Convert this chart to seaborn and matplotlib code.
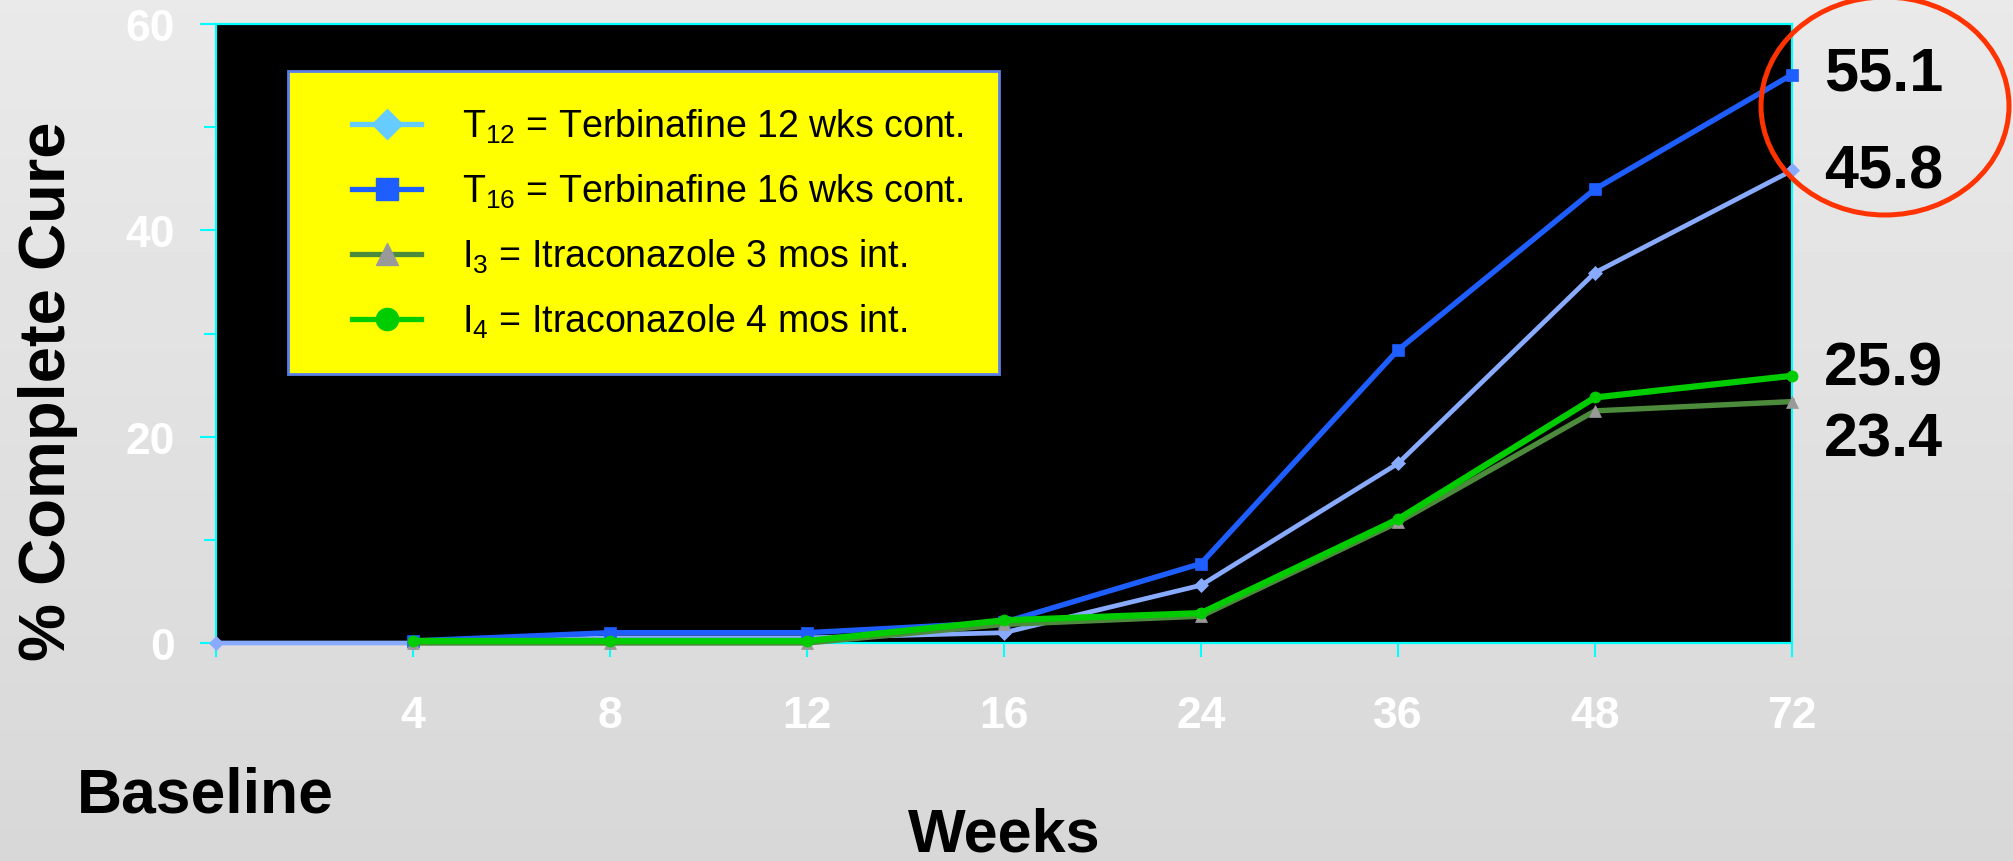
import numpy as np
import pandas as pd
import matplotlib
matplotlib.use("Agg")
import matplotlib.pyplot as plt
import seaborn as sns
from matplotlib.lines import Line2D
from matplotlib.patches import Ellipse, Rectangle
from matplotlib.ticker import MultipleLocator, FixedLocator

# ---- data -------------------------------------------------------------
weeks = ["Baseline", "4", "8", "12", "16", "24", "36", "48", "72"]
t12 = [0.0, 0.0, 0.5, 0.5, 1.0, 5.6, 17.4, 35.9, 45.8]
t16 = [np.nan, 0.2, 1.0, 1.0, 2.0, 7.7, 28.4, 44.0, 55.1]
i3 = [np.nan, 0.0, 0.0, 0.0, 1.8, 2.6, 11.7, 22.5, 23.4]
i4 = [np.nan, 0.2, 0.2, 0.2, 2.2, 2.9, 12.0, 23.8, 25.9]
series_labels = [
    "T$_{12}$ = Terbinafine 12 wks cont.",
    "T$_{16}$ = Terbinafine 16 wks cont.",
    "I$_{3}$ = Itraconazole 3 mos int.",
    "I$_{4}$ = Itraconazole 4 mos int.",
]
y_ticks = [0, 20, 40, 60]

# ---- styling -----------------------------------------------------------
plt.rcParams["font.family"] = ["Liberation Sans", "DejaVu Sans"]
plt.rcParams["mathtext.default"] = "regular"

W, H, DPI = 2013, 862, 100
fig = plt.figure(figsize=(W / DPI, H / DPI), dpi=DPI)

# soft grey gradient behind everything
bg = fig.add_axes([0, 0, 1, 1], zorder=-10)
grad = np.linspace(0.915, 0.845, 256).reshape(-1, 1)
bg.imshow(grad, aspect="auto", cmap="gray", vmin=0, vmax=1,
          extent=[0, 1, 0, 1])
bg.set_axis_off()

ax_l, ax_r, ax_t, ax_b = 216, 1792, 25, 644
ax = fig.add_axes([ax_l / W, 1 - ax_b / H, (ax_r - ax_l) / W, (ax_b - ax_t) / H])
ax.set_facecolor("black")

pos = np.arange(len(weeks))
df = pd.DataFrame({"pos": pos, "t12": t12, "t16": t16, "i3": i3, "i4": i4})

specs = [
    ("t12", dict(color="#88AAFF", lw=3.4, marker="D", ms=7, mfc="#88AAFF", mec="#88AAFF")),
    ("t16", dict(color="#1E5EFF", lw=3.9, marker="s", ms=8, mfc="#1E5EFF", mec="#1E5EFF")),
    ("i3", dict(color="#4B8B3B", lw=3.9, marker="^", ms=8, mfc="#999999", mec="#999999")),
    ("i4", dict(color="#00CC00", lw=4.5, marker="o", ms=8, mfc="#00CC00", mec="#00CC00")),
]
for col, kw in specs:
    sub = df[["pos", col]].dropna()
    sns.lineplot(data=sub, x="pos", y=col, ax=ax, color=kw["color"],
                 linewidth=kw["lw"], marker=kw["marker"], markersize=kw["ms"],
                 markerfacecolor=kw["mfc"], markeredgecolor=kw["mec"],
                 markeredgewidth=0.5, legend=False, clip_on=False, zorder=3)

ax.set_xlim(0, len(weeks) - 1)
ax.set_ylim(0, 60)

# axes frame and ticks in cyan
for sp in ax.spines.values():
    sp.set_color("#00FFFF")
    sp.set_linewidth(1.6)
    sp.set_zorder(2)

ax.xaxis.set_major_locator(FixedLocator(pos))
ax.set_xticklabels([""] + weeks[1:])
ax.yaxis.set_major_locator(FixedLocator(y_ticks))
ax.set_yticklabels([str(v) for v in y_ticks])
ax.yaxis.set_minor_locator(MultipleLocator(10))
ax.tick_params(axis="x", which="major", length=10, width=1.5, color="#00FFFF",
               pad=27.5, labelsize=32, labelcolor="white")
ax.tick_params(axis="y", which="major", length=11.5, width=1.5, color="#00FFFF",
               pad=18, labelsize=32, labelcolor="white")
ax.tick_params(axis="y", which="minor", length=9, width=1.5, color="#00FFFF")
for lab in ax.get_xticklabels() + ax.get_yticklabels():
    lab.set_fontweight("bold")

# axis titles
ax.set_xlabel("Weeks", fontsize=44, fontweight="bold", color="black")
ax.xaxis.label.set_va("baseline")
ax.xaxis.set_label_coords((1004 - ax_l) / (ax_r - ax_l), (ax_b - 852) / (ax_b - ax_t))
ax.set_ylabel("% Complete Cure", fontsize=47, fontweight="bold", color="black")
ax.yaxis.label.set_va("center")
ax.yaxis.set_label_coords((48 - ax_l) / (ax_r - ax_l), (ax_b - 391) / (ax_b - ax_t))

fig.text(205 / W, 1 - 813 / H, weeks[0], fontsize=45, fontweight="bold",
         color="black", ha="center", va="baseline")

# end-of-study values beside the last point of each series
end_offsets = {"t16": -11, "t12": -12, "i4": -6, "i3": -39}
for col in ["t16", "t12", "i4", "i3"]:
    v = df[col].iloc[-1]
    ax.annotate(f"{v:.1f}", xy=(pos[-1], v), xytext=(23, end_offsets[col]),
                textcoords="offset points", fontsize=44, fontweight="bold",
                color="black", ha="left", va="baseline", annotation_clip=False)

# legend on a yellow panel
ax.add_patch(Rectangle(((288 - ax_l) / (ax_r - ax_l), (ax_b - 375) / (ax_b - ax_t)),
                       711 / (ax_r - ax_l), 303 / (ax_b - ax_t),
                       transform=ax.transAxes, facecolor="#FFFF00",
                       edgecolor="#5A7FE8", linewidth=2.0, zorder=4))
handles = [
    Line2D([], [], color="#66CCFF", lw=3.8, marker="D", ms=15, mfc="#66CCFF", mec="#66CCFF"),
    Line2D([], [], color="#1E5EFF", lw=3.8, marker="s", ms=16, mfc="#1E5EFF", mec="#1E5EFF"),
    Line2D([], [], color="#4B8B3B", lw=3.8, marker="^", ms=16, mfc="#999999", mec="#999999"),
    Line2D([], [], color="#00CC00", lw=3.8, marker="o", ms=16, mfc="#00CC00", mec="#00CC00"),
]
leg = ax.legend(handles, series_labels, loc="upper left",
                bbox_to_anchor=((352 - ax_l) / (ax_r - ax_l), (ax_b - 108) / (ax_b - ax_t)),
                frameon=False, fontsize=27, handlelength=1.84, handletextpad=1.09,
                labelspacing=0.71, borderpad=0, borderaxespad=0)
leg.set_zorder(5)

# red highlight around the terbinafine end values
fig.add_artist(Ellipse((1885 / DPI, (H - 107) / DPI), 248 / DPI, 218 / DPI,
                       transform=fig.dpi_scale_trans, fill=False,
                       edgecolor="#FF3300", linewidth=3.6))

fig.savefig("out.png", dpi=DPI)
